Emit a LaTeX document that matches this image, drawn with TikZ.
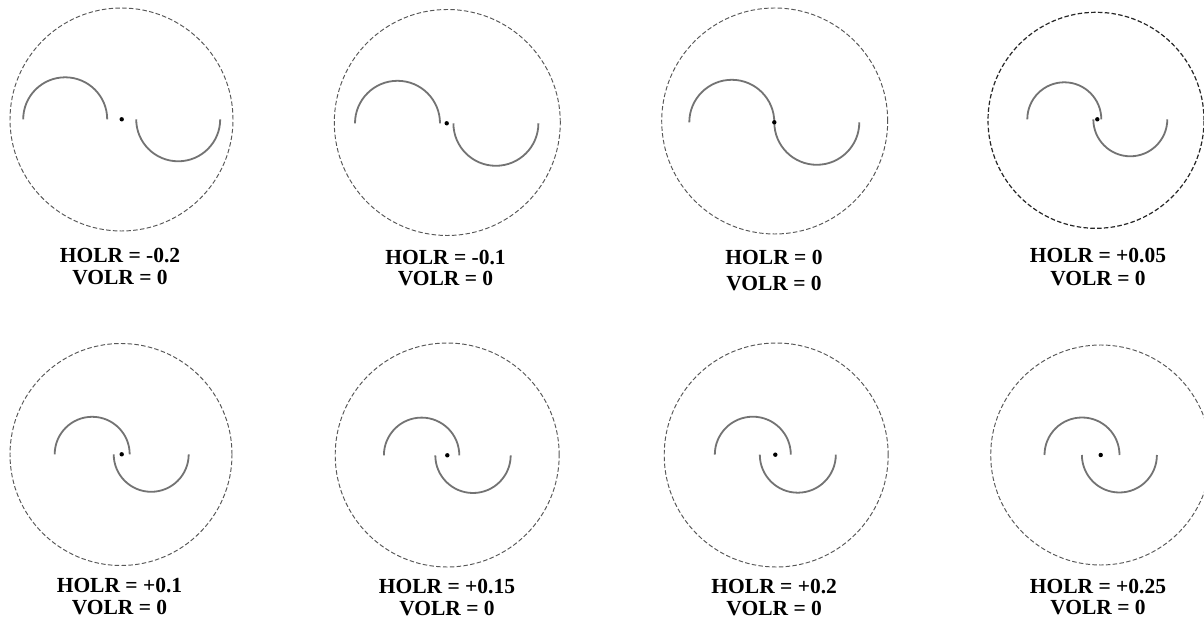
\documentclass[tikz,border=0pt]{standalone}
\usepackage{fontspec}
\setmainfont{Liberation Serif}
\tikzset{
  ring/.style={draw=black!66, line width=0.95pt, dash pattern=on 4.5pt off 2.3pt, circle, inner sep=0pt},
  darkring/.style={draw=black!85, line width=1.2pt},
  plainring/.style={},
  halfarc/.style={draw=black!55, line width=1.8pt},
  pivot/.style={circle, fill=black, inner sep=0pt, minimum size=4.4pt},
  lbl/.style={font=\fontsize{21.5}{22}\selectfont\bfseries, inner sep=0pt, anchor=base},
}
% #1 name, #2 #3 ring centre (image px), #4 ring radius, #5 #6 pivot, #7 arc radius, #8 shift, #9 ring variant
\newcommand{\holrpanel}[9]{%
  \node[ring, #9, minimum size={2*#4 pt}] (#1ring) at ({#2}, {624-#3}) {};
  \draw[halfarc] ({#5+(#8)-2*#7}, {624-#6}) arc[start angle=180, end angle=0, radius=#7pt];
  \draw[halfarc] ({#5-(#8)}, {624-#6}) arc[start angle=180, end angle=360, radius=#7pt];
  \node[pivot] (#1dot) at ({#5}, {624-#6}) {};
}
\newcommand{\holrlabel}[5]{%
  \node[lbl] (#1top) at ({#2}, {624-#3-7.2}) {HOLR = #5};
  \node[lbl] (#1bot) at ({#2}, {624-#4-7.2}) {VOLR = 0};
}
\begin{document}
\begin{tikzpicture}[x=1pt, y=1pt]
  \useasboundingbox (0,0) rectangle (1204,624);
  \clip (0,0) rectangle (1204,624);
  \fill[white] (0,0) rectangle (1204,624);
  % top row
  \holrpanel{pa}{121.5}{119.5}{111.5}{121.7}{119.3}{42}{-14.5}{plainring}
  \holrpanel{pb}{447.3}{122.5}{113}{446.7}{123.3}{42.5}{-6.7}{plainring}
  \holrpanel{pc}{774.7}{121}{113}{774.3}{122.3}{42.5}{0}{plainring}
  \holrpanel{pd}{1096}{120.3}{108}{1097.3}{119.3}{37}{4}{darkring}
  % bottom row
  \holrpanel{pe}{121}{454.5}{111}{121.7}{454.3}{37.5}{8}{plainring}
  \holrpanel{pf}{447.2}{455}{112}{447.3}{455.3}{37.7}{12}{plainring}
  \holrpanel{pg}{776.2}{455}{112}{775.3}{454.7}{38}{15.5}{plainring}
  \holrpanel{ph}{1100.7}{455}{110}{1100.7}{455}{37.5}{18.8}{plainring}
  % labels
  \holrlabel{la}{120}{255.7}{277.7}{-0.2}
  \holrlabel{lb}{445.5}{257.5}{278}{-0.1}
  \holrlabel{lc}{774}{257.8}{283.3}{0}
  \holrlabel{ld}{1098}{255.8}{278.3}{+0.05}
  \holrlabel{le}{119.5}{585.7}{607.3}{+0.1}
  \holrlabel{lf}{447}{586.7}{608}{+0.15}
  \holrlabel{lg}{774.2}{586.7}{608.3}{+0.2}
  \holrlabel{lh}{1098}{585.8}{607.7}{+0.25}
\end{tikzpicture}
\end{document}
